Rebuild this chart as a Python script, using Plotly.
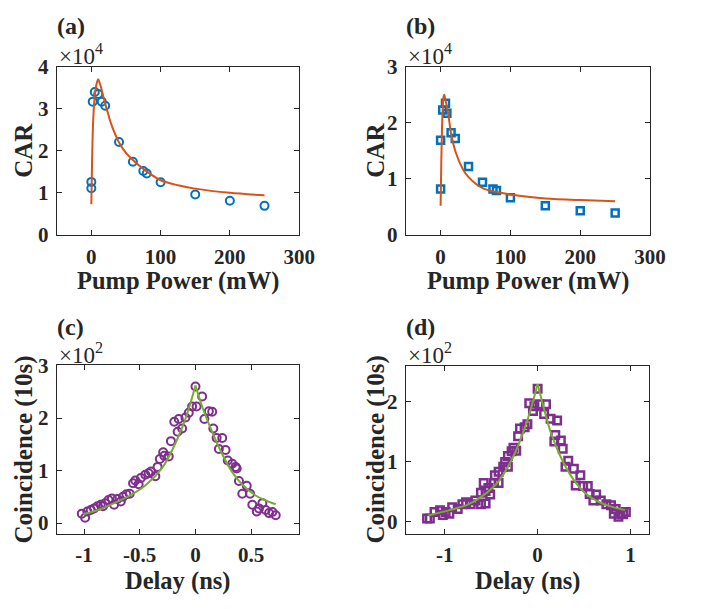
import plotly.graph_objects as go

# ---------------- data ----------------
# (a) CAR vs pump power, values in units of 1e4
a_power = [0, 0, 2, 5, 10, 15, 20, 40, 60, 75, 80, 100, 150, 200, 250]
a_car = [1.26, 1.11, 3.17, 3.40, 3.35, 3.17, 3.07, 2.21, 1.74, 1.52, 1.46, 1.25, 0.96, 0.81, 0.69]
a_fit_power = [0, 0.7, 1.4, 2.5, 4.2, 7, 9.9, 12, 14.6, 19.2, 23.9, 28.6, 40, 50, 60, 75, 100, 125, 150, 200, 250]
a_fit_car = [0.73, 1.4, 2.03, 2.65, 3.17, 3.55, 3.70, 3.62, 3.47, 3.17, 2.90, 2.64, 2.2, 1.95, 1.78, 1.57, 1.30, 1.18, 1.10, 1.0, 0.94]

# (b) CAR vs pump power, values in units of 1e4
b_power = [0, 0, 3, 7, 9, 15, 21, 40, 60, 75, 80, 100, 150, 200, 250]
b_car = [0.82, 1.69, 2.23, 2.35, 2.17, 1.82, 1.72, 1.22, 0.94, 0.82, 0.79, 0.66, 0.52, 0.43, 0.39]
b_fit_power = [0, 1, 2, 3, 4, 5.2, 7, 10.3, 15, 22, 31.5, 40, 60.6, 100, 150, 200, 250]
b_fit_car = [0.52, 1.3, 1.9, 2.25, 2.45, 2.50, 2.40, 2.21, 1.81, 1.46, 1.18, 1.03, 0.83, 0.72, 0.65, 0.62, 0.60]

# (c) coincidence vs delay, values in units of 1e2
c_delay = [-1.02, -0.99, -0.97, -0.94, -0.91, -0.88, -0.85, -0.83, -0.81, -0.78,
           -0.75, -0.73, -0.70, -0.67, -0.65, -0.62, -0.59, -0.56, -0.54, -0.51,
           -0.49, -0.45, -0.42, -0.40, -0.36, -0.34, -0.32, -0.29, -0.28, -0.24,
           -0.22, -0.19, -0.16, -0.15, -0.12, -0.09, -0.06, -0.03, 0.0, 0.01,
           0.06, 0.08, 0.12, 0.15, 0.16, 0.19, 0.21, 0.24, 0.27, 0.29,
           0.33, 0.36, 0.37, 0.39, 0.42, 0.46, 0.49, 0.51, 0.55, 0.57,
           0.60, 0.63, 0.66, 0.69, 0.72]
c_counts = [0.18, 0.10, 0.22, 0.25, 0.28, 0.32, 0.35, 0.32, 0.38, 0.44,
            0.47, 0.35, 0.46, 0.41, 0.50, 0.55, 0.56, 0.76, 0.81, 0.74,
            0.86, 0.92, 0.95, 0.98, 0.89, 1.07, 1.22, 1.35, 1.28, 1.27,
            1.56, 1.93, 1.74, 1.98, 1.80, 2.01, 2.10, 2.22, 2.60, 2.22,
            2.41, 1.98, 2.13, 2.12, 1.80, 1.62, 1.41, 1.62, 1.39, 1.19,
            1.13, 1.07, 1.04, 0.80, 0.56, 0.71, 0.56, 0.35, 0.22, 0.28,
            0.38, 0.25, 0.19, 0.21, 0.15]
c_fit_left_delay = [-1.006, -0.875, -0.729, -0.583, -0.437, -0.292, -0.204, -0.117, -0.058, 0.0]
c_fit_left_counts = [0.17, 0.25, 0.38, 0.53, 0.74, 1.07, 1.41, 1.83, 2.19, 2.62]
c_fit_right_delay = [0.0, 0.06, 0.149, 0.238, 0.327, 0.417, 0.536, 0.655, 0.72]
c_fit_right_counts = [2.62, 2.22, 1.74, 1.32, 0.98, 0.74, 0.53, 0.41, 0.36]

# (d) coincidence vs delay, values in units of 1e2
d_delay = [-1.19, -1.16, -1.11, -1.05, -1.02, -0.99, -0.95, -0.92, -0.86, -0.81,
           -0.77, -0.72, -0.67, -0.61, -0.56, -0.51, -0.56, -0.61, -0.58, -0.53,
           -0.47, -0.42, -0.46, -0.42, -0.37, -0.32, -0.35, -0.32, -0.28, -0.23,
           -0.26, -0.21, -0.19, -0.14, -0.11, -0.09, -0.05, -0.035, 0.0, 0.02,
           0.09, 0.07, 0.14, 0.21, 0.19, 0.18, 0.25, 0.27, 0.30, 0.33,
           0.39, 0.46, 0.41, 0.49, 0.54, 0.56, 0.63, 0.60, 0.68, 0.74,
           0.79, 0.84, 0.82, 0.87, 0.89, 0.92, 0.95]
d_counts = [0.05, 0.05, 0.16, 0.19, 0.11, 0.16, 0.13, 0.24, 0.21, 0.29,
            0.32, 0.29, 0.35, 0.29, 0.30, 0.45, 0.51, 0.48, 0.64, 0.56,
            0.64, 0.64, 0.77, 0.83, 0.91, 0.91, 0.99, 1.09, 1.17, 1.18,
            1.23, 1.42, 1.55, 1.57, 1.62, 1.97, 1.84, 1.92, 2.21, 1.95,
            1.95, 1.79, 1.71, 1.68, 1.44, 1.33, 1.35, 1.21, 0.91, 1.01,
            0.88, 0.77, 0.60, 0.59, 0.59, 0.46, 0.45, 0.35, 0.35, 0.29,
            0.27, 0.21, 0.13, 0.08, 0.13, 0.12, 0.16]
d_fit_left_delay = [-1.175, -0.95, -0.77, -0.60, -0.42, -0.25, -0.14, -0.07, 0.0]
d_fit_left_counts = [0.10, 0.19, 0.27, 0.42, 0.67, 1.12, 1.55, 1.89, 2.29]
d_fit_right_delay = [0.0, 0.07, 0.14, 0.25, 0.39, 0.53, 0.67, 0.81, 0.94]
d_fit_right_counts = [2.29, 1.87, 1.49, 1.07, 0.69, 0.45, 0.32, 0.24, 0.19]

# ---------------- style ----------------
W, H = 713, 609
BLUE = "#0072BD"
ORANGE = "#D95319"
PURPLE = "#7E2F8E"
GREEN = "#77AC30"
AX = "#262626"
FONT = "Liberation Serif"


def px_dom_x(l, r):
    return [l / W, r / W]


def px_dom_y(top, bottom):
    return [1 - bottom / H, 1 - top / H]


fig = go.Figure()

# (a)
fig.add_trace(go.Scatter(x=a_power, y=a_car, mode="markers", xaxis="x", yaxis="y",
                         marker=dict(symbol="circle-open", size=8, color=BLUE, line=dict(width=2, color=BLUE))))
fig.add_trace(go.Scatter(x=a_fit_power, y=a_fit_car, mode="lines", xaxis="x", yaxis="y",
                         line=dict(color=ORANGE, width=2, shape="spline", smoothing=0.8)))
# (b)
fig.add_trace(go.Scatter(x=b_power, y=b_car, mode="markers", xaxis="x2", yaxis="y2",
                         marker=dict(symbol="square-open", size=7, color=BLUE, line=dict(width=2.5, color=BLUE))))
fig.add_trace(go.Scatter(x=b_fit_power, y=b_fit_car, mode="lines", xaxis="x2", yaxis="y2",
                         line=dict(color=ORANGE, width=2, shape="spline", smoothing=0.8)))
# (c)
fig.add_trace(go.Scatter(x=c_delay, y=c_counts, mode="markers", xaxis="x3", yaxis="y3",
                         marker=dict(symbol="circle-open", size=8, color=PURPLE, line=dict(width=2, color=PURPLE))))
for xs, ys in [(c_fit_left_delay, c_fit_left_counts), (c_fit_right_delay, c_fit_right_counts)]:
    fig.add_trace(go.Scatter(x=xs, y=ys, mode="lines", xaxis="x3", yaxis="y3",
                             line=dict(color=GREEN, width=2, shape="spline", smoothing=0.8)))
# (d)
fig.add_trace(go.Scatter(x=d_delay, y=d_counts, mode="markers", xaxis="x4", yaxis="y4",
                         marker=dict(symbol="square-open", size=7.5, color=PURPLE, line=dict(width=2.5, color=PURPLE))))
for xs, ys in [(d_fit_left_delay, d_fit_left_counts), (d_fit_right_delay, d_fit_right_counts)]:
    fig.add_trace(go.Scatter(x=xs, y=ys, mode="lines", xaxis="x4", yaxis="y4",
                             line=dict(color=GREEN, width=2, shape="spline", smoothing=0.8)))

tickfont = dict(family=FONT, size=21, color=AX, weight="bold")


def axis(domain, rng, tickvals, ticktext, anchor, standoff):
    return dict(domain=domain, range=rng, tickvals=tickvals, ticktext=ticktext,
                anchor=anchor, showline=True, linecolor=AX, linewidth=1, mirror="ticks",
                ticks="inside", ticklen=5, tickcolor=AX, tickwidth=1,
                showgrid=False, zeroline=False, tickfont=tickfont, ticklabelstandoff=standoff)


top_a, bot_a = 57, 232
top_c, bot_c = 368, 543

fig.update_layout(
    width=W, height=H, margin=dict(l=0, r=0, t=0, b=0), autosize=False,
    paper_bgcolor="white", plot_bgcolor="white", showlegend=False,
    xaxis=axis(px_dom_x(58, 306), [-50, 300], [0, 100, 200, 300], ["0", "100", "200", "300"], "y", 3),
    yaxis=axis(px_dom_y(top_a, bot_a), [0, 4], [0, 1, 2, 3, 4], ["0", "1", "2", "3", "4"], "x", 3),
    xaxis2=axis(px_dom_x(415, 665), [-50, 300], [0, 100, 200, 300], ["0", "100", "200", "300"], "y2", 3),
    yaxis2=axis(px_dom_y(top_a, bot_a), [0, 3], [0, 1, 2, 3], ["0", "1", "2", "3"], "x2", 3),
    xaxis3=axis(px_dom_x(58, 306), [-1.245, 0.93], [-1, -0.5, 0, 0.5], ["-1", "-0.5", "0", "0.5"], "y3", 2),
    yaxis3=axis(px_dom_y(top_c, bot_c), [-0.2, 3], [0, 1, 2, 3], ["0", "1", "2", "3"], "x3", 3),
    xaxis4=axis(px_dom_x(415, 664), [-1.42, 1.2], [-1, 0, 1], ["-1", "0", "1"], "y4", 2),
    yaxis4=axis(px_dom_y(369, bot_c), [-0.2, 2.58], [0, 1, 2], ["0", "1", "2"], "x4", 3),
)


def ann(text, xpx, ypx, size, bold=True, xanchor="center", angle=0):
    fig.add_annotation(text=text, x=xpx / W, y=1 - ypx / H, xref="paper", yref="paper",
                       xanchor=xanchor, yanchor="middle", showarrow=False, textangle=angle,
                       borderpad=0,
                       font=dict(family=FONT, size=size, color=AX, weight="bold" if bold else "normal"))


# panel labels
ann("(a)", 57, 15, 24, xanchor="left")
ann("(b)", 414, 15, 24, xanchor="left")
ann("(c)", 57, 328, 24, xanchor="left")
ann("(d)", 414, 328, 24, xanchor="left")
# exponent labels
ann("×10<sup>4</sup>", 59, 44, 23, bold=False, xanchor="left")
ann("×10<sup>4</sup>", 416, 44, 23, bold=False, xanchor="left")
ann("×10<sup>2</sup>", 59, 356, 23, bold=False, xanchor="left")
ann("×10<sup>2</sup>", 416, 356, 23, bold=False, xanchor="left")
# axis titles
ann("CAR", 24, 144, 25, angle=-90)
ann("CAR", 384, 144, 25, angle=-90)
ann("Pump Power (mW)", 182, 280, 24.5)
ann("Pump Power (mW)", 540, 280, 24.5)
ann("Coincidence (10s)", 25, 455, 25, angle=-90)
ann("Coincidence (10s)", 385, 455, 25, angle=-90)
ann("Delay (ns)", 182, 592, 24.5)
ann("Delay (ns)", 540, 592, 24.5)

fig.write_html(
    "out.html",
    config={"displayModeBar": False, "responsive": False},
    post_script=(
        "document.body.style.margin='0px';"
        "document.body.style.overflow='hidden';"
        "document.documentElement.style.overflow='hidden';"
    ),
)
